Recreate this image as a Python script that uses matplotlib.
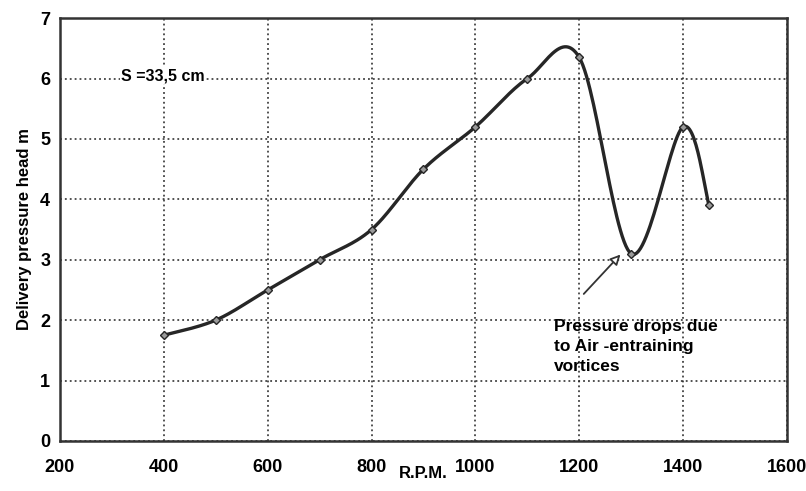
import numpy as np
import matplotlib.pyplot as plt

rpm = [400, 500, 600, 700, 800, 900, 1000, 1100, 1200, 1300, 1400, 1450]
head = [1.75, 2.0, 2.5, 3.0, 3.5, 4.5, 5.2, 6.0, 6.35, 3.1, 5.2, 3.9]

x_ticks = [200, 400, 600, 800, 1000, 1200, 1400, 1600]
y_ticks = [0, 1, 2, 3, 4, 5, 6, 7]


def smooth_line(xs, ys, n=30):
    # Excel style smoothed line (Catmull-Rom through the points)
    xs = np.asarray(xs, float)
    ys = np.asarray(ys, float)
    px = np.concatenate([[xs[0]], xs, [xs[-1]]])
    py = np.concatenate([[ys[0]], ys, [ys[-1]]])
    outx, outy = [], []
    t = np.linspace(0, 1, n)
    for i in range(1, len(px) - 2):
        p0x, p1x, p2x, p3x = px[i - 1], px[i], px[i + 1], px[i + 2]
        p0y, p1y, p2y, p3y = py[i - 1], py[i], py[i + 1], py[i + 2]
        c1x = p1x + (p2x - p0x) / 6
        c1y = p1y + (p2y - p0y) / 6
        c2x = p2x - (p3x - p1x) / 6
        c2y = p2y - (p3y - p1y) / 6
        bx = (1-t)**3*p1x + 3*(1-t)**2*t*c1x + 3*(1-t)*t**2*c2x + t**3*p2x
        by = (1-t)**3*p1y + 3*(1-t)**2*t*c1y + 3*(1-t)*t**2*c2y + t**3*p2y
        outx.extend(bx)
        outy.extend(by)
    return outx, outy


plt.rcParams['font.family'] = ['Liberation Sans', 'DejaVu Sans']
plt.rcParams['font.weight'] = 'bold'

fig = plt.figure(figsize=(8.06, 4.91), dpi=100)
ax = fig.add_axes([0.0744, 0.102, 0.902, 0.861])

sx, sy = smooth_line(rpm, head)
ax.plot(sx, sy, color='#262626', lw=2.4, zorder=3)
ax.plot(rpm, head, ls='none', marker='D', ms=4.5, mfc='#9a9a9a', mec='#262626',
        mew=1.0, zorder=4)

ax.set_xlim(200, 1600)
ax.set_ylim(0, 7)
ax.set_xticks(x_ticks)
ax.set_yticks(y_ticks)
ax.tick_params(length=0, labelsize=13, pad=7)
ax.tick_params(axis='x', pad=13)
ax.grid(True, color='#222222', ls=(0, (1.2, 2.0)), lw=1.1)
for s in ax.spines.values():
    s.set_linewidth(1.8)
    s.set_color('#333333')

ax.set_ylabel('Delivery pressure head m', fontsize=12, fontweight='bold', labelpad=6)
ax.set_xlabel('R.P.M.', fontsize=12, fontweight='bold', labelpad=-7)

ax.text(318, 6.05, 'S =33,5 cm', fontsize=11.5, fontweight='bold', va='center',
        ha='left', bbox=dict(fc='white', ec='none', pad=1), zorder=5)

ax.annotate('Pressure drops due\nto Air -entraining\nvortices',
            xy=(1283, 3.12), xytext=(1152, 2.02), fontsize=12.5,
            fontweight='bold', va='top', ha='left', linespacing=1.4,
            zorder=5)
ax.annotate('', xy=(1283, 3.12), xytext=(1205, 2.4),
            arrowprops=dict(arrowstyle='-|>', color='#333333', lw=1.3,
                            fc='white', mutation_scale=15), zorder=5)

fig.savefig('out.png', dpi=100)
